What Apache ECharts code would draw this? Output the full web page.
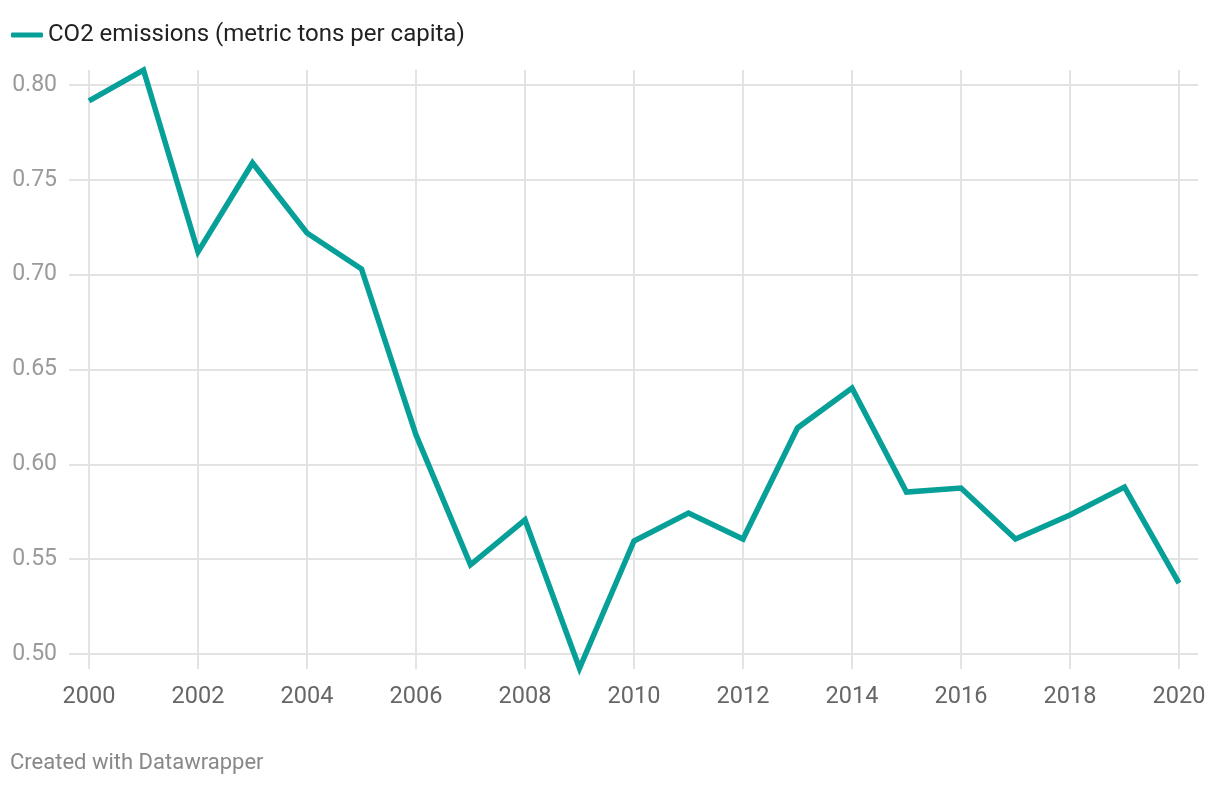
<!DOCTYPE html>
<html>
<head>
<meta charset="utf-8">
<script src="https://cdn.jsdelivr.net/npm/echarts@6/dist/echarts.min.js"></script>
<style>
html,body{margin:0;padding:0;background:#fff;}
#chart{width:1220px;height:786px;}
</style>
</head>
<body>
<div id="chart"></div>
<script>
const years = [2000,2001,2002,2003,2004,2005,2006,2007,2008,2009,2010,2011,2012,2013,2014,2015,2016,2017,2018,2019,2020];
const co2 = [0.7916,0.8079,0.7120,0.7589,0.7220,0.7030,0.6155,0.5470,0.5707,0.4925,0.5596,0.5743,0.5606,0.6192,0.6402,0.5854,0.5875,0.5606,0.5733,0.5880,0.5374];
const yTicks = [0.50,0.55,0.60,0.65,0.70,0.75,0.80];
const xTicks = [2000,2002,2004,2006,2008,2010,2012,2014,2016,2018,2020];
const seriesName = 'CO2 emissions (metric tons per capita)';

const chart = echarts.init(document.getElementById('chart'), null, {renderer:'canvas'});
const font = 'Roboto';
chart.setOption({
  animation:false,
  backgroundColor:'#ffffff',
  textStyle:{fontFamily:font},
  legend:{
    left:6, top:18,
    icon:'roundRect', itemWidth:32, itemHeight:5, itemGap:10,
    textStyle:{fontFamily:font, fontSize:24, color:'#222'},
    data:[seriesName]
  },
  graphic:[{
    type:'text', left:10, top:752,
    style:{text:'Created with Datawrapper', fontFamily:font, fontSize:22, fill:'#888'}
  }],
  grid:{left:69, right:22, top:70, bottom:117, containLabel:false},
  xAxis:{
    type:'value', min:1999.633, max:2020.349,
    axisLine:{show:false},
    axisTick:{show:false, customValues:xTicks},
    splitLine:{show:true, lineStyle:{color:'#e3e3e3', width:2}},
    axisLabel:{customValues:xTicks, color:'#666', fontSize:23.5, fontFamily:font, margin:16, formatter:v=>String(v)}
  },
  yAxis:{
    type:'value', min:0.4921, max:0.8079,
    axisLine:{show:false},
    axisTick:{show:false, customValues:yTicks},
    splitLine:{show:true, lineStyle:{color:'#e3e3e3', width:2}},
    axisLabel:{customValues:yTicks, color:'#9a9a9a', fontSize:23, fontFamily:font, margin:12, formatter:v=>v.toFixed(2)}
  },
  series:[{
    name:seriesName, type:'line',
    data:years.map((y,i)=>[y,co2[i]]),
    showSymbol:false, symbol:'none', clip:false,
    lineStyle:{color:'#07a098', width:5.5, join:'miter'},
    itemStyle:{color:'#07a098'}
  }]
});
</script>
</body>
</html>
